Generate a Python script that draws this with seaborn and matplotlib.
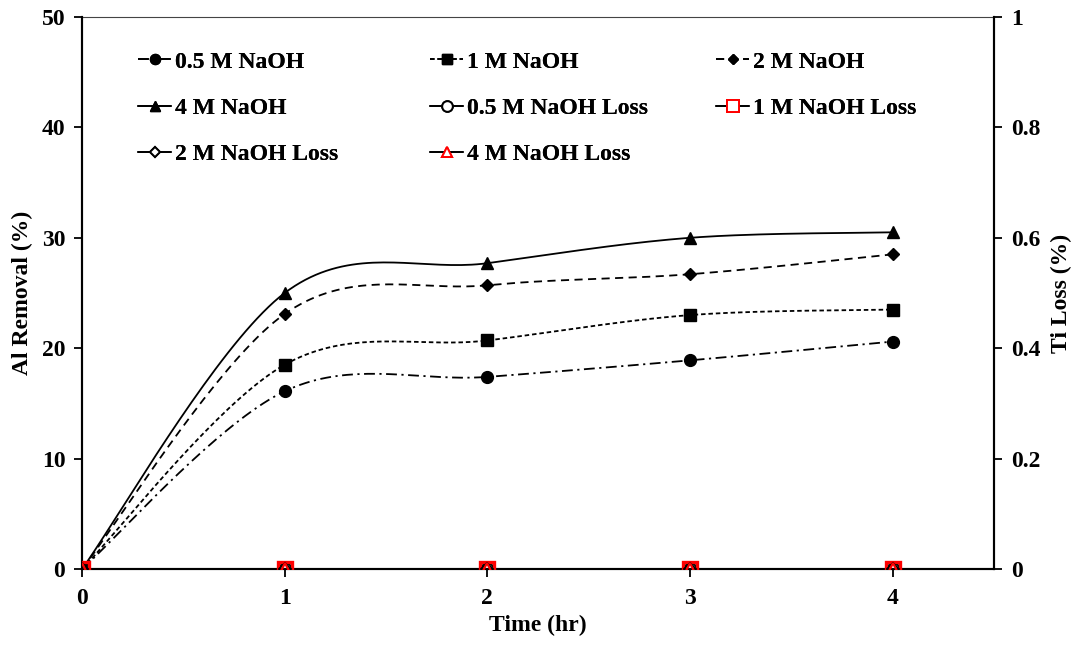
import numpy as np
import pandas as pd
import matplotlib
matplotlib.use("Agg")
import matplotlib.pyplot as plt
import seaborn as sns
from matplotlib.lines import Line2D
from matplotlib.ticker import FuncFormatter

# ---- data ----
time_hr = [0, 1, 2, 3, 4]
al_05 = [0, 16.1, 17.4, 18.9, 20.6]
al_1 = [0, 18.5, 20.7, 23.0, 23.5]
al_2 = [0, 23.1, 25.7, 26.7, 28.5]
al_4 = [0, 25.0, 27.7, 30.0, 30.5]
loss_05 = [0, 0, 0, 0, 0]
loss_1 = [0, 0, 0, 0, 0]
loss_2 = [0, 0, 0, 0, 0]
loss_4 = [0, 0, 0, 0, 0]
x_ticks = [0, 1, 2, 3, 4]
left_ticks = [0, 10, 20, 30, 40, 50]
right_ticks = [0, 0.2, 0.4, 0.6, 0.8, 1.0]

sns.set_theme(style="white")
plt.rcParams["font.family"] = ["Liberation Serif", "DejaVu Serif"]
plt.rcParams["font.weight"] = "bold"
plt.rcParams["text.color"] = "black"
plt.rcParams["axes.labelcolor"] = "black"
plt.rcParams["xtick.color"] = "black"
plt.rcParams["ytick.color"] = "black"
FS = 17


def smooth(xv, yv, n=40):
    """Excel-like smoothed line: Catmull-Rom as cubic Bezier segments."""
    P = np.column_stack([xv, yv]).astype(float)
    m = len(P)
    out = []
    for i in range(m - 1):
        p0 = P[i - 1] if i > 0 else P[i]
        p1, p2 = P[i], P[i + 1]
        p3 = P[i + 2] if i + 2 < m else P[i + 1]
        c1 = p1 + (p2 - p0) / 6.0
        c2 = p2 - (p3 - p1) / 6.0
        t = np.linspace(0, 1, n)[:, None]
        seg = ((1 - t) ** 3) * p1 + 3 * ((1 - t) ** 2) * t * c1 + 3 * (1 - t) * t ** 2 * c2 + t ** 3 * p2
        out.append(seg if i == 0 else seg[1:])
    s = np.vstack(out)
    return s[:, 0], s[:, 1]


fig = plt.figure(figsize=(10.78, 6.45), dpi=100)
ax = fig.add_axes([82 / 1078, 1 - 569 / 645, (994 - 82) / 1078, (569 - 17) / 645])
ax2 = ax.twinx()

al_series = [
    ("0.5 M NaOH", al_05, "o", (0, (6, 2.5, 1.2, 2.5)), 8.5),
    ("1 M NaOH", al_1, "s", (0, (2.5, 1.6)), 9),
    ("2 M NaOH", al_2, "D", (0, (4.5, 3)), 6.5),
    ("4 M NaOH", al_4, "^", "-", 9),
]
handles = {}
for name, vals, mk, ls, ms in al_series:
    sx, sy = smooth(time_hr, vals)
    sns.lineplot(x=sx, y=sy, ax=ax, color="black", lw=1.3, linestyle=ls, sort=False,
                 estimator=None, legend=False)
    ax.plot(time_hr, vals, linestyle="none", marker=mk, ms=ms, color="black", zorder=4)
    handles[name] = Line2D([], [], color="black", lw=1.3, linestyle=ls, marker=mk, ms=ms * 0.85)

loss_series = [
    ("0.5 M NaOH Loss", loss_05, "o", "black", 9, 1.4),
    ("1 M NaOH Loss", loss_1, "s", "red", 10, 2.4),
    ("2 M NaOH Loss", loss_2, "D", "black", 6.5, 1.4),
    ("4 M NaOH Loss", loss_4, "^", "red", 9, 1.6),
]
for name, vals, mk, c, ms, mew in loss_series:
    sns.lineplot(x=time_hr, y=vals, ax=ax2, color="black", lw=1.3, sort=False,
                 estimator=None, legend=False)
    ax2.plot(time_hr, vals, linestyle="none", marker=mk, ms=ms, markerfacecolor="none",
             markeredgecolor=c, markeredgewidth=mew, zorder=5)
    handles[name] = Line2D([], [], color="black", lw=1.3, marker=mk, ms=ms * 0.85,
                           markerfacecolor="white", markeredgecolor=c, markeredgewidth=1.4)

# axes ranges & ticks
ax.set_xlim(0, 4.5)
ax.set_ylim(0, 50)
ax2.set_ylim(0, 1)
ax.set_xticks(x_ticks)
ax.set_yticks(left_ticks)
ax2.set_yticks(right_ticks)
ax2.yaxis.set_major_formatter(FuncFormatter(lambda v, p: f"{v:g}"))

for a in (ax, ax2):
    for s in a.spines.values():
        s.set_color("black")
        s.set_linewidth(1.5)
    a.grid(False)
    a.set_facecolor("none")
ax.spines["top"].set_linewidth(0.8)
ax.spines["top"].set_color("#444444")
ax2.spines["top"].set_visible(False)
ax.tick_params(axis="both", which="major", direction="out", length=6, width=1.3,
               colors="black", labelsize=FS, pad=6, left=True, bottom=True)
ax2.tick_params(axis="y", direction="out", length=6, width=1.3, colors="black",
                labelsize=FS, pad=6, right=True)
ax.tick_params(axis="x", pad=8)
for lab in ax.get_xticklabels() + ax.get_yticklabels() + ax2.get_yticklabels():
    lab.set_fontweight("bold")

ax.set_xlabel("Time (hr)", fontsize=FS, fontweight="bold", labelpad=4, color="black")
ax.set_ylabel("Al Removal (%)", fontsize=FS, fontweight="bold", labelpad=6, color="black")
ax2.set_ylabel("Ti Loss (%)", fontsize=FS, fontweight="bold", rotation=90, labelpad=8,
               color="black")

# legend in three columns (Excel style, row-major)
cols = [
    (["0.5 M NaOH", "4 M NaOH", "2 M NaOH Loss"], 138),
    (["1 M NaOH", "0.5 M NaOH Loss", "4 M NaOH Loss"], 430),
    (["2 M NaOH", "1 M NaOH Loss"], 716),
]
for names, xpix in cols:
    leg = fig.legend([handles[n] for n in names], names, loc="upper left",
                     bbox_to_anchor=(xpix / 1078, 1 - 51 / 645), frameon=False,
                     fontsize=FS, handlelength=1.4, handletextpad=0.15,
                     labelspacing=1.05, borderaxespad=0, borderpad=0)
    for t in leg.get_texts():
        t.set_fontweight("bold")
        t.set_color("black")
    fig.add_artist(leg)

fig.savefig("out.png", dpi=100)
